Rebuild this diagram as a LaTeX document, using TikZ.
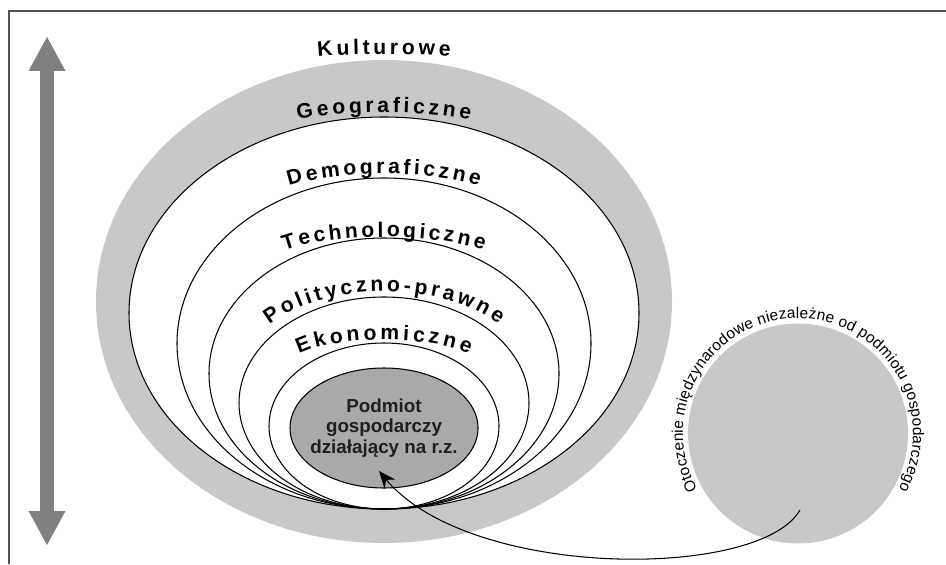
\documentclass[tikz,border=0pt]{standalone}
\usepackage{fontspec}
\setmainfont{Liberation Sans}
\usetikzlibrary{positioning,shapes.geometric,decorations.text,arrows.meta}

\definecolor{bandgray}{HTML}{C8C8C8}
\definecolor{firmgray}{HTML}{A9A9A9}
\definecolor{scalegray}{HTML}{808080}
\definecolor{framegray}{HTML}{505050}

\newcommand{\ringfont}{\bfseries\fontsize{12}{14}\selectfont}
\newcommand{\envfont}{\fontsize{8.8}{10}\selectfont}

\tikzset{
  ring/.style={ellipse,draw=black,line width=0.6pt,inner sep=0pt},
  ringlabel/.style={decorate,decoration={text along path,text align={fit to path},text={|\ringfont|#1}}},
  firmtext/.style={align=center,inner sep=0pt,font=\bfseries\fontsize{10.7}{11.5}\selectfont,text=black!88},
}

\begin{document}
\begin{tikzpicture}
  \useasboundingbox (0,0) rectangle (18.92,11.28);
  \draw[framegray,line width=0.7pt] (0.18,0) |- (18.92,11.06);

  % scale arrow on the left
  \coordinate (scaletop) at (0.94,10.54);
  \coordinate (scalebottom) at (0.94,0.38);
  \draw[scalegray,line width=0.28cm,{Triangle[length=0.68cm,width=0.74cm,line width=0pt]}-{Triangle[length=0.68cm,width=0.74cm,line width=0pt]}] (scaletop) -- (scalebottom);

  % nested spheres
  \node[ellipse,fill=bandgray,inner sep=0pt,minimum width=11.52cm,minimum height=9.66cm] (kult) at (7.68,5.25) {};
  \node[ring,fill=white,minimum width=10.20cm,minimum height=7.84cm] (geo) at (7.68,5.02) {};
  \node[ring,minimum width=8.28cm,minimum height=6.62cm] (demo) at (7.68,4.41) {};
  \node[ring,minimum width=7.00cm,minimum height=5.42cm] (tech) at (7.68,3.81) {};
  \node[ring,minimum width=5.80cm,minimum height=4.24cm] (pol) at (7.68,3.22) {};
  \node[ring,minimum width=4.60cm,minimum height=3.32cm] (eko) at (7.68,2.76) {};
  \node[ring,fill=firmgray,minimum width=3.76cm,minimum height=2.40cm] (firm) at (7.68,2.72) {};
  \node[firmtext] (firmlabel) at (firm.center) {Podmiot\\gospodarczy\\działający na r.z.};

  % sphere labels
  \path[ringlabel=Kulturowe] (6.36,10.14) .. controls +(8:0.48) and +(172:0.48) .. (9.00,10.14);
  \path[ringlabel=Geograficzne] (5.96,8.88) .. controls +(13:0.89) and +(167:0.89) .. (9.40,8.88);
  \path[ringlabel=Demograficzne] (5.78,7.56) .. controls +(18:1.04) and +(162:1.04) .. (9.58,7.56);
  \path[ringlabel=Technologiczne] (5.69,6.27) .. controls +(20:1.05) and +(160:1.05) .. (9.67,6.27);
  \path[ringlabel=Polityczno-prawne] (5.39,4.79) .. controls +(38:1.43) and +(142:1.43) .. (9.97,4.79);
  \path[ringlabel=Ekonomiczne] (5.98,4.20) .. controls +(27:0.82) and +(153:0.82) .. (9.38,4.20);

  % international environment
  \node[circle,fill=bandgray,inner sep=0pt,minimum size=4.40cm] (intl) at (15.96,2.61) {};
  \path[shift={(intl.center)},decorate,decoration={text along path,text align={fit to path},
    text={|\envfont|Otoczenie międzynarodowe niezależne od podmiotu gospodarczego}}]
    (209:2.30) arc[start angle=209,end angle=-29,radius=2.30];

  \coordinate (intlpoint) at (16.00,1.08);
  \coordinate (firmpoint) at (7.58,1.86);
  \draw[line width=0.6pt,-{Stealth[length=3.4mm,width=2.8mm]}] (intlpoint) .. controls (15.20,-0.32) and (9.40,-0.32) .. (firmpoint);
\end{tikzpicture}
\end{document}
